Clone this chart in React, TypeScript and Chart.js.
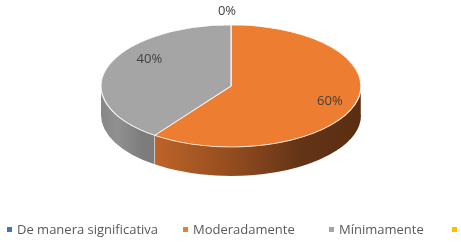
import React, { useEffect, useRef } from "react";
import { Chart, registerables } from "chart.js";

Chart.register(...registerables);

const categories = ["De manera significativa", "Moderadamente", "Mínimamente", ""];
const values: (number | null)[] = [0, 60, 40, null];
const topColors = ["#4472C4", "#ED7D31", "#A5A5A5", "#FFC000"];

// ellipse geometry of the 3D pie
const CX = 231;
const CY = 86;
const RX = 130;
const RY = 61;
const DEPTH = 29;

// legend layout
const legendLeft = [7, 183, 329, 452];
const LEGEND_TOP = 227;

function sideFill(ctx: CanvasRenderingContext2D, i: number) {
  if (i === 1) {
    const g = ctx.createLinearGradient(CX - RX * 0.68, 0, CX + RX, 0);
    g.addColorStop(0, "#C4672A");
    g.addColorStop(0.4, "#944D1F");
    g.addColorStop(0.72, "#643416");
    g.addColorStop(1, "#5A2E12");
    return g;
  }
  if (i === 2) {
    const g = ctx.createLinearGradient(CX - RX, 0, CX - RX * 0.68, 0);
    g.addColorStop(0, "#878787");
    g.addColorStop(0.4, "#909090");
    g.addColorStop(1, "#7C7C7C");
    return g;
  }
  return topColors[i];
}

const pie3d = {
  id: "pie3d",
  beforeDatasetsDraw(chart: any) {
    const meta = chart.getDatasetMeta(0);
    const arcs = meta.data;
    if (!arcs.length) return;
    const ctx = chart.ctx as CanvasRenderingContext2D;
    const p0 = arcs[0].getProps(["x", "y", "outerRadius"], true);
    ctx.save();
    arcs.forEach((arc: any, i: number) => {
      const { startAngle, endAngle } = arc.getProps(["startAngle", "endAngle"], true);
      let s = startAngle % (2 * Math.PI);
      if (s < -1e-9) s += 2 * Math.PI;
      const e = s + (endAngle - startAngle);
      const segs: [number, number][] = [];
      for (const off of [0, 2 * Math.PI, -2 * Math.PI]) {
        const a = Math.max(s + off, 0);
        const b = Math.min(e + off, Math.PI);
        if (b - a > 1e-6) segs.push([a, b]);
      }
      segs.forEach(([a, b]) => {
        ctx.fillStyle = sideFill(ctx, i) as any;
        ctx.beginPath();
        ctx.ellipse(CX, CY, RX, RY, 0, a, b, false);
        ctx.lineTo(CX + RX * Math.cos(b), CY + DEPTH + RY * Math.sin(b));
        ctx.ellipse(CX, CY + DEPTH, RX, RY, 0, b, a, true);
        ctx.closePath();
        ctx.fill();
        ctx.strokeStyle = "rgba(255,255,255,0.6)";
        ctx.lineWidth = 0.8;
        ctx.beginPath();
        ctx.moveTo(CX + RX * Math.cos(a), CY + RY * Math.sin(a));
        ctx.lineTo(CX + RX * Math.cos(a), CY + DEPTH + RY * Math.sin(a));
        ctx.stroke();
      });
    });
    ctx.restore();
    ctx.save();
    ctx.translate(CX, CY);
    ctx.scale(RX / p0.outerRadius, RY / p0.outerRadius);
    ctx.translate(-p0.x, -p0.y);
  },
  afterDatasetsDraw(chart: any) {
    const ctx = chart.ctx as CanvasRenderingContext2D;
    ctx.restore();
    // rim highlight
    ctx.save();
    ctx.strokeStyle = "rgba(255,255,255,0.45)";
    ctx.lineWidth = 0.8;
    ctx.beginPath();
    ctx.ellipse(CX, CY, RX, RY, 0, 0, Math.PI, false);
    ctx.stroke();
    ctx.restore();

    const meta = chart.getDatasetMeta(0);
    const data = chart.data.datasets[0].data as (number | null)[];
    const total = data.reduce((s: number, v) => s + (v ?? 0), 0);
    ctx.save();
    ctx.font = "13px 'Open Sans', sans-serif";
    ctx.fillStyle = "#404040";
    ctx.textAlign = "center";
    ctx.textBaseline = "middle";
    meta.data.forEach((arc: any, i: number) => {
      const v = data[i];
      if (v === null || v === undefined) return;
      const { startAngle, endAngle } = arc.getProps(["startAngle", "endAngle"], true);
      const m = (startAngle + endAngle) / 2;
      const f = v === 0 ? 1.22 : v > 50 ? 0.8 : 0.66;
      const lift = v === 0 ? 0 : v > 50 ? 0 : -14;
      const x = CX + RX * f * Math.cos(m) + (v === 0 ? -4 : 0);
      const y = CY + RY * f * Math.sin(m) + lift;
      ctx.fillText(Math.round((v / total) * 100) + "%", x, y);
    });
    ctx.restore();
  },
};

export default function App() {
  const ref = useRef<HTMLCanvasElement | null>(null);
  useEffect(() => {
    document.body.style.margin = "0";
    const canvas = ref.current!;
    const chart = new Chart(canvas, {
      type: "pie",
      data: {
        labels: categories,
        datasets: [
          {
            data: values as any,
            backgroundColor: topColors,
            borderColor: "rgba(255,255,255,0.8)",
            borderWidth: 1,
          },
        ],
      },
      options: {
        responsive: false,
        maintainAspectRatio: false,
        animation: false,
        layout: { padding: { top: 10, bottom: 40 } },
        plugins: {
          tooltip: { enabled: false },
          legend: { display: false },
        },
      },
      plugins: [pie3d],
    });
    return () => chart.destroy();
  }, []);
  return (
    <div
      style={{
        position: "relative",
        width: 461,
        height: 242,
        background: "#fff",
        fontFamily: "'Open Sans', sans-serif",
      }}
    >
      <canvas ref={ref} width={461} height={242} style={{ display: "block" }} />
      {categories.map((c, i) => (
        <div
          key={i}
          style={{
            position: "absolute",
            left: legendLeft[i],
            top: LEGEND_TOP - 7,
            height: 18,
            display: "flex",
            alignItems: "center",
            whiteSpace: "nowrap",
            fontSize: 13,
            color: "#595959",
          }}
        >
          <span
            style={{
              display: "inline-block",
              width: 5,
              height: 5,
              background: topColors[i],
              marginRight: 5,
            }}
          />
          <span style={{ lineHeight: "18px" }}>{c}</span>
        </div>
      ))}
    </div>
  );
}
